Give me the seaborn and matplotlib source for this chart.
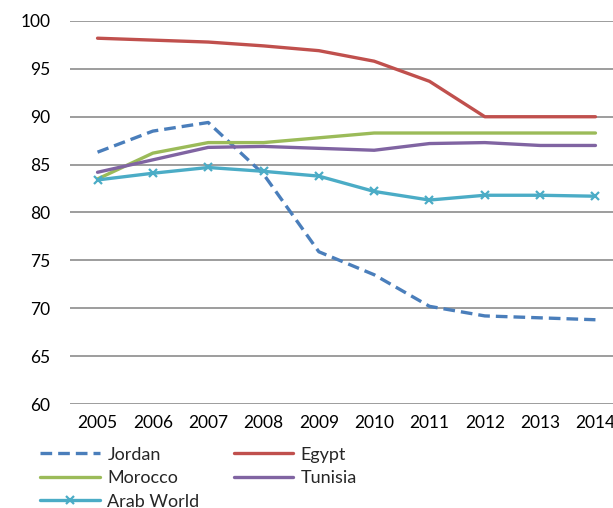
import matplotlib
matplotlib.use("Agg")
import matplotlib.pyplot as plt
import seaborn as sns
import pandas as pd

years = [2005, 2006, 2007, 2008, 2009, 2010, 2011, 2012, 2013, 2014]
jordan = [86.3, 88.5, 89.4, 84.0, 75.9, 73.5, 70.2, 69.2, 69.0, 68.8]
egypt = [98.2, 98.0, 97.8, 97.4, 96.9, 95.8, 93.7, 90.0, 90.0, 90.0]
morocco = [83.5, 86.2, 87.3, 87.3, 87.8, 88.3, 88.3, 88.3, 88.3, 88.3]
tunisia = [84.2, 85.5, 86.8, 86.9, 86.7, 86.5, 87.2, 87.3, 87.0, 87.0]
arab_world = [83.4, 84.1, 84.7, 84.3, 83.8, 82.2, 81.3, 81.8, 81.8, 81.7]

y_ticks = [60, 65, 70, 75, 80, 85, 90, 95, 100]

sns.set_theme(style="white")
plt.rcParams["font.family"] = ["Lato", "DejaVu Sans"]

fig = plt.figure(figsize=(6.13, 5.08), dpi=100)
ax = fig.add_axes([0.114, 0.2047, 0.9025, 0.754])

series = [
    ("Jordan", jordan, "#4a7ebb", (0, (3.5, 1.8)), None),
    ("Egypt", egypt, "#c0504d", "-", None),
    ("Morocco", morocco, "#9bbb59", "-", None),
    ("Tunisia", tunisia, "#8064a2", "-", None),
    ("Arab World", arab_world, "#4bacc6", "-", "x"),
]

for name, vals, color, ls, mk in series:
    df = pd.DataFrame({"year": years, "value": vals})
    sns.lineplot(data=df, x="year", y="value", ax=ax, color=color,
                 linestyle=ls, linewidth=2.4, marker=mk, markersize=6,
                 markeredgewidth=1.6, markeredgecolor=color, label=name,
                 zorder=3)

ax.set_xlim(2004.5, 2014.5)
ax.set_ylim(60, 100)
ax.set_yticks(y_ticks)
ax.set_xticks(years)
ax.set_xticklabels([str(y) for y in years])
ax.yaxis.grid(True, color="#8c8c8c", linewidth=1.2, zorder=0)
ax.xaxis.grid(False)
for s in ax.spines.values():
    s.set_visible(False)
ax.tick_params(axis="both", length=0, labelsize=12.5, colors="black")
ax.tick_params(axis="y", pad=14)
ax.tick_params(axis="x", pad=8)
ax.set_xlabel("")
ax.set_ylabel("")

handles, labels = ax.get_legend_handles_labels()
ax.get_legend().remove()
# legend fills column by column: left column Jordan/Morocco/Arab World
order = [0, 2, 4, 1, 3]
fig.legend([handles[i] for i in order], [labels[i] for i in order],
           ncol=2, loc="upper left",
           bbox_to_anchor=(0.066, 0.121), frameon=False, fontsize=13,
           handlelength=3.3, handletextpad=0.4, columnspacing=1.9,
           labelspacing=0.42, borderaxespad=0, borderpad=0)

fig.savefig("out.png", dpi=100)
